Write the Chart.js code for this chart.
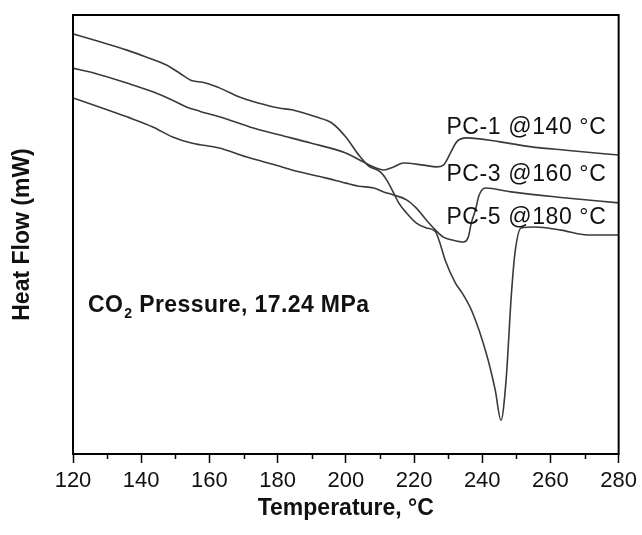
<!DOCTYPE html>
<html>
<head>
<meta charset="utf-8">
<script src="https://cdn.jsdelivr.net/npm/chart.js@4.4.1/dist/chart.umd.min.js"></script>
<style>
  html, body { margin: 0; padding: 0; background: #fff; }
  #wrap { width: 642px; height: 535px; }
</style>
</head>
<body>
<div id="wrap"><canvas id="chart" width="642" height="535"></canvas></div>
<script>
// DSC traces (temperature in °C, heat flow in arbitrary units)
const tempPC1 = [120, 126.1, 135.8, 143.4, 149.2, 153.4, 157.1, 165.0, 172.6, 180.4, 189.9, 199.8, 205.2, 209.0, 211.1, 214.0, 216.9, 222.8, 226.6, 228.6, 230.7, 232.5, 235.4, 245.3, 255.0, 264.6, 280];
const flowPC1 = [8.79, 8.68, 8.45, 8.25, 8.06, 7.90, 7.81, 7.63, 7.43, 7.27, 7.08, 6.86, 6.65, 6.51, 6.47, 6.54, 6.63, 6.58, 6.54, 6.58, 6.86, 7.11, 7.20, 7.11, 6.99, 6.92, 6.81];

const tempPC3 = [120, 127.9, 135.8, 143.4, 149.2, 155.0, 162.9, 170.7, 180.4, 184.2, 194.0, 200.0, 203.8, 208.2, 211.1, 214.0, 217.8, 220.7, 223.6, 226.3, 228.6, 231.5, 234.5, 235.9, 236.8, 238.0, 239.1, 240.9, 248.5, 262.3, 280];
const flowPC3 = [8.11, 7.90, 7.68, 7.45, 7.22, 7.08, 6.97, 6.77, 6.56, 6.47, 6.29, 6.17, 6.10, 6.06, 5.97, 5.90, 5.79, 5.60, 5.33, 5.10, 4.94, 4.87, 4.83, 4.94, 5.26, 5.56, 5.90, 6.06, 5.97, 5.85, 5.72];

const tempPC5 = [120, 127.9, 135.8, 141.6, 147.4, 151.2, 155.0, 158.0, 162.9, 168.8, 174.6, 180.4, 184.2, 191.2, 195.9, 200.0, 203.8, 206.7, 210.2, 212.0, 214.0, 215.5, 217.8, 220.7, 223.6, 226.3, 227.7, 229.2, 232.1, 234.1, 237.1, 241.3, 243.8, 245.5, 247.0, 248.5, 249.6, 251.4, 255.5, 263.1, 270.9, 280];
const flowPC5 = [9.57, 9.39, 9.20, 9.04, 8.86, 8.68, 8.50, 8.47, 8.34, 8.13, 7.99, 7.88, 7.84, 7.68, 7.54, 7.22, 6.81, 6.56, 6.42, 6.24, 5.95, 5.72, 5.49, 5.26, 5.15, 5.06, 4.78, 4.40, 3.90, 3.67, 3.23, 2.26, 1.46, 0.77, 1.69, 3.58, 4.58, 5.15, 5.17, 5.10, 4.99, 4.99];

const seriesNames = ['PC-1 @140 °C', 'PC-3 @160 °C', 'PC-5 @180 °C'];
const xTickLabels = [120, 140, 160, 180, 200, 220, 240, 260, 280];

const FONT = "'Liberation Sans', Arial, Helvetica, sans-serif";
const LINE = '#3a3a3a';

function toPoints(xs, ys) {
    return xs.map((x, i) => ({ x: x, y: ys[i] }));
}

// text annotations placed in data coordinates
const seriesLabelPos = [[229.5, 7.29], [229.5, 6.22], [229.5, 5.24]];
const pressurePos = [124.4, 3.23];

const framePlugin = {
    id: 'frame',
    beforeDraw(chart) {
        const ctx = chart.ctx;
        ctx.save();
        ctx.fillStyle = '#fff';
        ctx.fillRect(0, 0, chart.width, chart.height);
        ctx.restore();
    },
    afterDraw(chart) {
        const ctx = chart.ctx;
        const a = chart.chartArea;
        const xs = chart.scales.x;
        ctx.save();
        // minor ticks
        ctx.strokeStyle = '#000';
        ctx.lineWidth = 1.5;
        for (let v = 130; v < 280; v += 20) {
            const px = Math.round(xs.getPixelForValue(v)) + 0.5;
            ctx.beginPath();
            ctx.moveTo(px, a.bottom);
            ctx.lineTo(px, a.bottom + 5);
            ctx.stroke();
        }
        ctx.lineWidth = 2;
        ctx.strokeRect(a.left, a.top, a.right - a.left, a.bottom - a.top);

        // series labels
        const ys = chart.scales.y;
        ctx.fillStyle = '#111';
        ctx.textBaseline = 'alphabetic';
        ctx.textAlign = 'left';
        ctx.font = '23px ' + FONT;
        ctx.letterSpacing = '0.6px';
        seriesNames.forEach((name, i) => {
            const px = xs.getPixelForValue(seriesLabelPos[i][0]);
            const py = ys.getPixelForValue(seriesLabelPos[i][1]);
            ctx.fillText(name, px, py);
        });

        // CO2 pressure note
        ctx.letterSpacing = '0.4px';
        let px = xs.getPixelForValue(pressurePos[0]);
        const py = ys.getPixelForValue(pressurePos[1]);
        ctx.font = 'bold 23px ' + FONT;
        ctx.fillText('CO', px, py);
        px += ctx.measureText('CO').width;
        ctx.font = 'bold 14px ' + FONT;
        ctx.fillText('2', px + 1, py + 6);
        px += ctx.measureText('2').width + 1;
        ctx.font = 'bold 23px ' + FONT;
        ctx.fillText(' Pressure, 17.24 MPa', px, py);
        ctx.restore();
    }
};

const config = {
    type: 'line',
    data: {
        datasets: [
            { label: seriesNames[0], data: toPoints(tempPC1, flowPC1) },
            { label: seriesNames[1], data: toPoints(tempPC3, flowPC3) },
            { label: seriesNames[2], data: toPoints(tempPC5, flowPC5) }
        ].map(ds => Object.assign(ds, {
            borderColor: LINE,
            borderWidth: 1.6,
            pointRadius: 0,
            fill: false,
            cubicInterpolationMode: 'monotone'
        }))
    },
    options: {
        responsive: false,
        animation: false,
        devicePixelRatio: 1,
        layout: { padding: { top: 15, right: 21, left: 0, bottom: 0 } },
        plugins: {
            legend: { display: false },
            tooltip: { enabled: false }
        },
        scales: {
            x: {
                type: 'linear',
                min: 120,
                max: 280,
                afterFit: (s) => { s.height = 81; },
                afterBuildTicks: (s) => { s.ticks = xTickLabels.map(v => ({ value: v })); },
                ticks: {
                    color: '#111',
                    font: { family: FONT, size: 22 },
                    padding: 5,
                    maxRotation: 0,
                    autoSkip: false
                },
                grid: {
                    display: true,
                    drawOnChartArea: false,
                    drawTicks: true,
                    tickLength: 9,
                    tickWidth: 1.5,
                    tickColor: '#000'
                },
                border: { display: false },
                title: {
                    display: true,
                    text: 'Temperature, °C',
                    color: '#111',
                    font: { family: FONT, size: 23, weight: 'bold' },
                    padding: { top: 0, bottom: 13 }
                }
            },
            y: {
                type: 'linear',
                min: 0,
                max: 10,
                afterFit: (s) => { s.width = 73; },
                ticks: { display: false },
                grid: { display: false },
                border: { display: false },
                title: {
                    display: true,
                    text: 'Heat Flow (mW)',
                    color: '#111',
                    font: { family: FONT, size: 23, weight: 'bold' },
                    padding: { top: 9, bottom: 0 }
                }
            }
        }
    },
    plugins: [framePlugin]
};

new Chart(document.getElementById('chart'), config);
</script>
</body>
</html>
